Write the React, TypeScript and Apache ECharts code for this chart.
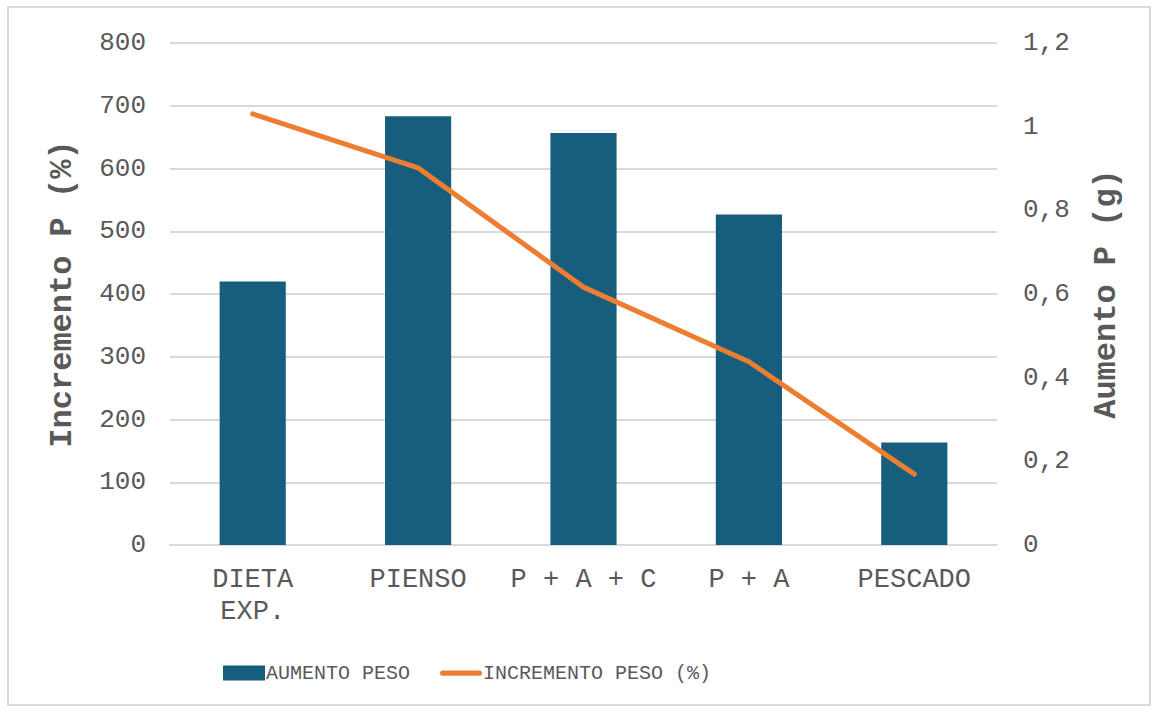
import React, { useEffect, useRef } from "react";
import * as echarts from "echarts";

const categories = ["DIETA\nEXP.", "PIENSO", "P + A + C", "P + A", "PESCADO"];
const aumentoPeso = [0.63, 1.025, 0.985, 0.79, 0.245];
const incrementoPeso = [687, 601, 411, 292, 113];
const leftTicks = { min: 0, max: 800, interval: 100 };
const rightTicks = { min: 0, max: 1.2, interval: 0.2 };

const FONT = "'Liberation Mono', 'DejaVu Sans Mono', monospace";
const GRAY = "#595959";
const LINE_ICON = "path://M3,0 H45 A3,3 0 0 1 45,6 H3 A3,3 0 0 1 3,0 Z";

export default function App() {
  const ref = useRef<HTMLDivElement>(null);
  useEffect(() => {
    if (!ref.current) return;
    const chart = echarts.init(ref.current, undefined, { renderer: "svg" });
    chart.setOption({
      animation: false,
      backgroundColor: "#ffffff",
      textStyle: { fontFamily: FONT },
      graphic: [
        {
          type: "rect",
          shape: { x: 8, y: 7, width: 1142, height: 698 },
          style: { fill: "none", stroke: "#d9d9d9", lineWidth: 2 },
          silent: true,
        },
      ],
      grid: { left: 170, right: 158, top: 43, bottom: 168 },
      legend: {
        left: 218,
        top: 658,
        itemWidth: 42,
        itemHeight: 15,
        itemGap: 30,
        symbolKeepAspect: true,
        textStyle: { fontFamily: FONT, fontSize: 20, color: GRAY, padding: [0, 0, 0, -4] },
        data: [
          { name: "AUMENTO PESO", icon: "rect" },
          { name: "INCREMENTO PESO (%)", icon: LINE_ICON },
        ],
      },
      xAxis: {
        type: "category",
        data: categories,
        axisLine: { lineStyle: { color: "#d9d9d9", width: 2 } },
        axisTick: { show: false },
        axisLabel: {
          color: GRAY,
          fontFamily: FONT,
          fontSize: 27,
          lineHeight: 32,
          margin: 19,
          interval: 0,
        },
      },
      yAxis: [
        {
          type: "value",
          ...leftTicks,
          name: "Incremento P (%)",
          nameLocation: "middle",
          nameGap: 92,
          nameTextStyle: { color: GRAY, fontFamily: FONT, fontSize: 32, fontWeight: "bold" },
          axisLine: { show: false },
          axisTick: { show: false },
          axisLabel: { color: GRAY, fontFamily: FONT, fontSize: 26, margin: 24 },
          splitLine: { lineStyle: { color: "#d9d9d9", width: 2 } },
        },
        {
          type: "value",
          ...rightTicks,
          name: "Aumento P (g)",
          nameLocation: "middle",
          nameGap: 93,
          nameRotate: 90,
          nameTextStyle: { color: GRAY, fontFamily: FONT, fontSize: 32, fontWeight: "bold" },
          axisLine: { show: false },
          axisTick: { show: false },
          axisLabel: {
            color: GRAY,
            fontFamily: FONT,
            fontSize: 26,
            margin: 26,
            formatter: (v: number) => String(Math.round(v * 10) / 10).replace(".", ","),
          },
          splitLine: { show: false },
        },
      ],
      series: [
        {
          name: "AUMENTO PESO",
          type: "bar",
          yAxisIndex: 1,
          data: aumentoPeso,
          barWidth: "40%",
          itemStyle: { color: "#175e7e" },
        },
        {
          name: "INCREMENTO PESO (%)",
          type: "line",
          yAxisIndex: 0,
          data: incrementoPeso,
          showSymbol: false,
          symbol: "none",
          lineStyle: { color: "#ed7d31", width: 5, cap: "round", join: "round" },
          itemStyle: { color: "#ed7d31" },
        },
      ],
    });
    return () => chart.dispose();
  }, []);
  return (
    <div
      ref={ref}
      style={{ position: "fixed", left: 0, top: 0, width: 1155, height: 713 }}
    />
  );
}
